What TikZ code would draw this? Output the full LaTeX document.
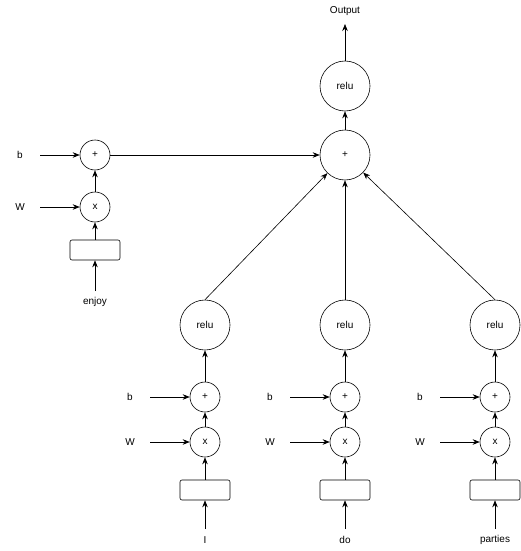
\documentclass[tikz,border=0pt]{standalone}
\usepackage{fontspec}
\setmainfont{Liberation Sans}
\usetikzlibrary{arrows.meta}
\begin{document}
\begin{tikzpicture}[x=1pt,y=-1pt,
  big/.style={draw,circle,minimum size=50pt,inner sep=0pt,font=\fontsize{10}{12}\selectfont},
  small/.style={draw,circle,minimum size=30pt,inner sep=0pt,font=\fontsize{10}{12}\selectfont},
  vec/.style={draw,rounded corners=2pt,minimum width=50pt,minimum height=20pt,inner sep=0pt},
  lbl/.style={inner sep=0pt,font=\fontsize{10}{12}\selectfont},
  arr/.style={-{Stealth[length=7pt,width=5.5pt]},line width=0.6pt},
  every node/.append style={line width=0.6pt}]
\useasboundingbox (0,0) rectangle (521,551);
% top
\node[lbl] (out) at (345,11) {Output};
\node[big] (trelu) at (345,86) {relu};
\node[big] (tplus) at (345,155) {+};
\draw[arr] (trelu) -- (out.south |- 0,24);
\draw[arr] (tplus) -- (trelu);
% left column
\node[small] (eplus) at (95,155) {+};
\node[small] (ex) at (95,207) {x};
\node[vec] (evec) at (95,250) {};
\node[lbl] (enjoy) at (95,302) {enjoy};
\node[lbl] (eb) at (20,155) {b};
\node[lbl] (eW) at (20,207) {W};
\coordinate (ebs) at (40,155);
\coordinate (eWs) at (40,207);
\draw[arr] (ebs) -- (eplus);
\draw[arr] (eWs) -- (ex);
\draw[arr] (ex) -- (eplus);
\draw[arr] (evec) -- (ex);
\draw[arr] (enjoy.north |- 0,291) -- (evec);
\draw[arr] (eplus) -- (tplus);
% bottom columns
\foreach \n/\xx/\word in {a/205/I,b/345/do,c/495/parties}{
  \node[big] (relu\n) at (\xx,325) {relu};
  \node[small] (plus\n) at (\xx,397) {+};
  \node[small] (x\n) at (\xx,442) {x};
  \node[vec] (vec\n) at (\xx,490) {};
  \node[lbl] (w\n) at (\xx,540) {\word};
  \node[lbl] (b\n) at (\xx-75,397) {b};
  \node[lbl] (W\n) at (\xx-75,442) {W};
  \coordinate (bs\n) at (\xx-55,397);
  \coordinate (Ws\n) at (\xx-55,442);
  \coordinate (ws\n) at (\xx,529);
  \draw[arr] (bs\n) -- (plus\n);
  \draw[arr] (Ws\n) -- (x\n);
  \draw[arr] (x\n) -- (plus\n);
  \draw[arr] (vec\n) -- (x\n);
  \draw[arr] (ws\n) -- (vec\n);
  \draw[arr] (plus\n) -- (relu\n);
  \draw[arr] (relu\n.north) -- (tplus);
}
\end{tikzpicture}
\end{document}
